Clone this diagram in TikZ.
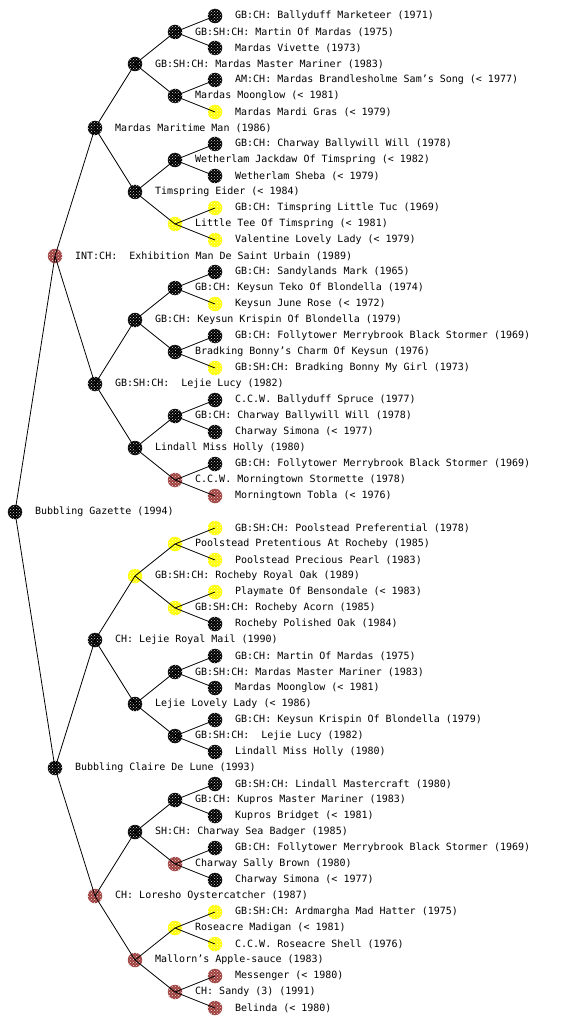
\documentclass[tikz,border=0pt]{standalone}
\usepackage{fontspec}
\setmonofont{DejaVu Sans Mono}
\usepackage{tikz}
\usetikzlibrary{positioning,patterns}
\definecolor{pedred}{RGB}{158,64,62}
\definecolor{pedyellow}{RGB}{255,255,0}

\begin{document}
\begin{tikzpicture}[x=1pt, y=-1pt,
  dog/.style={circle, minimum size=14.5pt, inner sep=0, fill=#1, postaction={pattern=crosshatch dots, pattern color=white!85!#1}},
  dogname/.style={right=12.5pt of #1, inner sep=0, font=\ttfamily\fontsize{10}{12}\selectfont}]
  \useasboundingbox (0,0) rectangle (560,1024);
  % dog and its parents (0 = sire, 1 = dam)
  \node[dog=black] (p) at (15,512) {}; \node[dogname=p] (p-t) {Bubbling Gazette (1994)};
  \node[dog=pedred] (p0) at (55,256) {}; \node[dogname=p0] (p0-t) {INT:CH:\ \ Exhibition Man De Saint Urbain (1989)};
  \node[dog=black] (p1) at (55,768) {}; \node[dogname=p1] (p1-t) {Bubbling Claire De Lune (1993)};
  % grandparents
  \node[dog=black] (p00) at (95,128) {}; \node[dogname=p00] (p00-t) {Mardas Maritime Man (1986)};
  \node[dog=black] (p01) at (95,384) {}; \node[dogname=p01] (p01-t) {GB:SH:CH:\ \ Lejie Lucy (1982)};
  \node[dog=black] (p10) at (95,640) {}; \node[dogname=p10] (p10-t) {CH: Lejie Royal Mail (1990)};
  \node[dog=pedred] (p11) at (95,896) {}; \node[dogname=p11] (p11-t) {CH: Loresho Oystercatcher (1987)};
  % great-grandparents
  \node[dog=black] (p000) at (135,64) {}; \node[dogname=p000] (p000-t) {GB:SH:CH: Mardas Master Mariner (1983)};
  \node[dog=black] (p001) at (135,192) {}; \node[dogname=p001] (p001-t) {Timspring Eider (< 1984)};
  \node[dog=black] (p010) at (135,320) {}; \node[dogname=p010] (p010-t) {GB:CH: Keysun Krispin Of Blondella (1979)};
  \node[dog=black] (p011) at (135,448) {}; \node[dogname=p011] (p011-t) {Lindall Miss Holly (1980)};
  \node[dog=pedyellow] (p100) at (135,576) {}; \node[dogname=p100] (p100-t) {GB:SH:CH: Rocheby Royal Oak (1989)};
  \node[dog=black] (p101) at (135,704) {}; \node[dogname=p101] (p101-t) {Lejie Lovely Lady (< 1986)};
  \node[dog=black] (p110) at (135,832) {}; \node[dogname=p110] (p110-t) {SH:CH: Charway Sea Badger (1985)};
  \node[dog=pedred] (p111) at (135,960) {}; \node[dogname=p111] (p111-t) {Mallorn’s Apple-sauce (1983)};
  % 4th generation
  \node[dog=black] (p0000) at (175,32) {}; \node[dogname=p0000] (p0000-t) {GB:SH:CH: Martin Of Mardas (1975)};
  \node[dog=black] (p0001) at (175,96) {}; \node[dogname=p0001] (p0001-t) {Mardas Moonglow (< 1981)};
  \node[dog=black] (p0010) at (175,160) {}; \node[dogname=p0010] (p0010-t) {Wetherlam Jackdaw Of Timspring (< 1982)};
  \node[dog=pedyellow] (p0011) at (175,224) {}; \node[dogname=p0011] (p0011-t) {Little Tee Of Timspring (< 1981)};
  \node[dog=black] (p0100) at (175,288) {}; \node[dogname=p0100] (p0100-t) {GB:CH: Keysun Teko Of Blondella (1974)};
  \node[dog=black] (p0101) at (175,352) {}; \node[dogname=p0101] (p0101-t) {Bradking Bonny’s Charm Of Keysun (1976)};
  \node[dog=black] (p0110) at (175,416) {}; \node[dogname=p0110] (p0110-t) {GB:CH: Charway Ballywill Will (1978)};
  \node[dog=pedred] (p0111) at (175,480) {}; \node[dogname=p0111] (p0111-t) {C.C.W. Morningtown Stormette (1978)};
  \node[dog=pedyellow] (p1000) at (175,544) {}; \node[dogname=p1000] (p1000-t) {Poolstead Pretentious At Rocheby (1985)};
  \node[dog=pedyellow] (p1001) at (175,608) {}; \node[dogname=p1001] (p1001-t) {GB:SH:CH: Rocheby Acorn (1985)};
  \node[dog=black] (p1010) at (175,672) {}; \node[dogname=p1010] (p1010-t) {GB:SH:CH: Mardas Master Mariner (1983)};
  \node[dog=black] (p1011) at (175,736) {}; \node[dogname=p1011] (p1011-t) {GB:SH:CH:\ \ Lejie Lucy (1982)};
  \node[dog=black] (p1100) at (175,800) {}; \node[dogname=p1100] (p1100-t) {GB:CH: Kupros Master Mariner (1983)};
  \node[dog=pedred] (p1101) at (175,864) {}; \node[dogname=p1101] (p1101-t) {Charway Sally Brown (1980)};
  \node[dog=pedyellow] (p1110) at (175,928) {}; \node[dogname=p1110] (p1110-t) {Roseacre Madigan (< 1981)};
  \node[dog=pedred] (p1111) at (175,992) {}; \node[dogname=p1111] (p1111-t) {CH: Sandy (3) (1991)};
  % 5th generation
  \node[dog=black] (p00000) at (215,16) {}; \node[dogname=p00000] (p00000-t) {GB:CH: Ballyduff Marketeer (1971)};
  \node[dog=black] (p00001) at (215,48) {}; \node[dogname=p00001] (p00001-t) {Mardas Vivette (1973)};
  \node[dog=black] (p00010) at (215,80) {}; \node[dogname=p00010] (p00010-t) {AM:CH: Mardas Brandlesholme Sam’s Song (< 1977)};
  \node[dog=pedyellow] (p00011) at (215,112) {}; \node[dogname=p00011] (p00011-t) {Mardas Mardi Gras (< 1979)};
  \node[dog=black] (p00100) at (215,144) {}; \node[dogname=p00100] (p00100-t) {GB:CH: Charway Ballywill Will (1978)};
  \node[dog=black] (p00101) at (215,176) {}; \node[dogname=p00101] (p00101-t) {Wetherlam Sheba (< 1979)};
  \node[dog=pedyellow] (p00110) at (215,208) {}; \node[dogname=p00110] (p00110-t) {GB:CH: Timspring Little Tuc (1969)};
  \node[dog=pedyellow] (p00111) at (215,240) {}; \node[dogname=p00111] (p00111-t) {Valentine Lovely Lady (< 1979)};
  \node[dog=black] (p01000) at (215,272) {}; \node[dogname=p01000] (p01000-t) {GB:CH: Sandylands Mark (1965)};
  \node[dog=pedyellow] (p01001) at (215,304) {}; \node[dogname=p01001] (p01001-t) {Keysun June Rose (< 1972)};
  \node[dog=black] (p01010) at (215,336) {}; \node[dogname=p01010] (p01010-t) {GB:CH: Follytower Merrybrook Black Stormer (1969)};
  \node[dog=pedyellow] (p01011) at (215,368) {}; \node[dogname=p01011] (p01011-t) {GB:SH:CH: Bradking Bonny My Girl (1973)};
  \node[dog=black] (p01100) at (215,400) {}; \node[dogname=p01100] (p01100-t) {C.C.W. Ballyduff Spruce (1977)};
  \node[dog=black] (p01101) at (215,432) {}; \node[dogname=p01101] (p01101-t) {Charway Simona (< 1977)};
  \node[dog=black] (p01110) at (215,464) {}; \node[dogname=p01110] (p01110-t) {GB:CH: Follytower Merrybrook Black Stormer (1969)};
  \node[dog=pedred] (p01111) at (215,496) {}; \node[dogname=p01111] (p01111-t) {Morningtown Tobla (< 1976)};
  \node[dog=pedyellow] (p10000) at (215,528) {}; \node[dogname=p10000] (p10000-t) {GB:SH:CH: Poolstead Preferential (1978)};
  \node[dog=pedyellow] (p10001) at (215,560) {}; \node[dogname=p10001] (p10001-t) {Poolstead Precious Pearl (1983)};
  \node[dog=pedyellow] (p10010) at (215,592) {}; \node[dogname=p10010] (p10010-t) {Playmate Of Bensondale (< 1983)};
  \node[dog=black] (p10011) at (215,624) {}; \node[dogname=p10011] (p10011-t) {Rocheby Polished Oak (1984)};
  \node[dog=black] (p10100) at (215,656) {}; \node[dogname=p10100] (p10100-t) {GB:CH: Martin Of Mardas (1975)};
  \node[dog=black] (p10101) at (215,688) {}; \node[dogname=p10101] (p10101-t) {Mardas Moonglow (< 1981)};
  \node[dog=black] (p10110) at (215,720) {}; \node[dogname=p10110] (p10110-t) {GB:CH: Keysun Krispin Of Blondella (1979)};
  \node[dog=black] (p10111) at (215,752) {}; \node[dogname=p10111] (p10111-t) {Lindall Miss Holly (1980)};
  \node[dog=black] (p11000) at (215,784) {}; \node[dogname=p11000] (p11000-t) {GB:SH:CH: Lindall Mastercraft (1980)};
  \node[dog=black] (p11001) at (215,816) {}; \node[dogname=p11001] (p11001-t) {Kupros Bridget (< 1981)};
  \node[dog=black] (p11010) at (215,848) {}; \node[dogname=p11010] (p11010-t) {GB:CH: Follytower Merrybrook Black Stormer (1969)};
  \node[dog=black] (p11011) at (215,880) {}; \node[dogname=p11011] (p11011-t) {Charway Simona (< 1977)};
  \node[dog=pedyellow] (p11100) at (215,912) {}; \node[dogname=p11100] (p11100-t) {GB:SH:CH: Ardmargha Mad Hatter (1975)};
  \node[dog=pedyellow] (p11101) at (215,944) {}; \node[dogname=p11101] (p11101-t) {C.C.W. Roseacre Shell (1976)};
  \node[dog=pedred] (p11110) at (215,976) {}; \node[dogname=p11110] (p11110-t) {Messenger (< 1980)};
  \node[dog=pedred] (p11111) at (215,1008) {}; \node[dogname=p11111] (p11111-t) {Belinda (< 1980)};
  % lines to sire and dam
  \foreach \d in {p,p0,p1,p00,p01,p10,p11,p000,p001,p010,p011,p100,p101,p110,p111,
    p0000,p0001,p0010,p0011,p0100,p0101,p0110,p0111,p1000,p1001,p1010,p1011,p1100,p1101,p1110,p1111}
    \draw[line width=0.8pt] (\d.center) -- (\d0.center) (\d.center) -- (\d1.center);
\end{tikzpicture}
\end{document}
